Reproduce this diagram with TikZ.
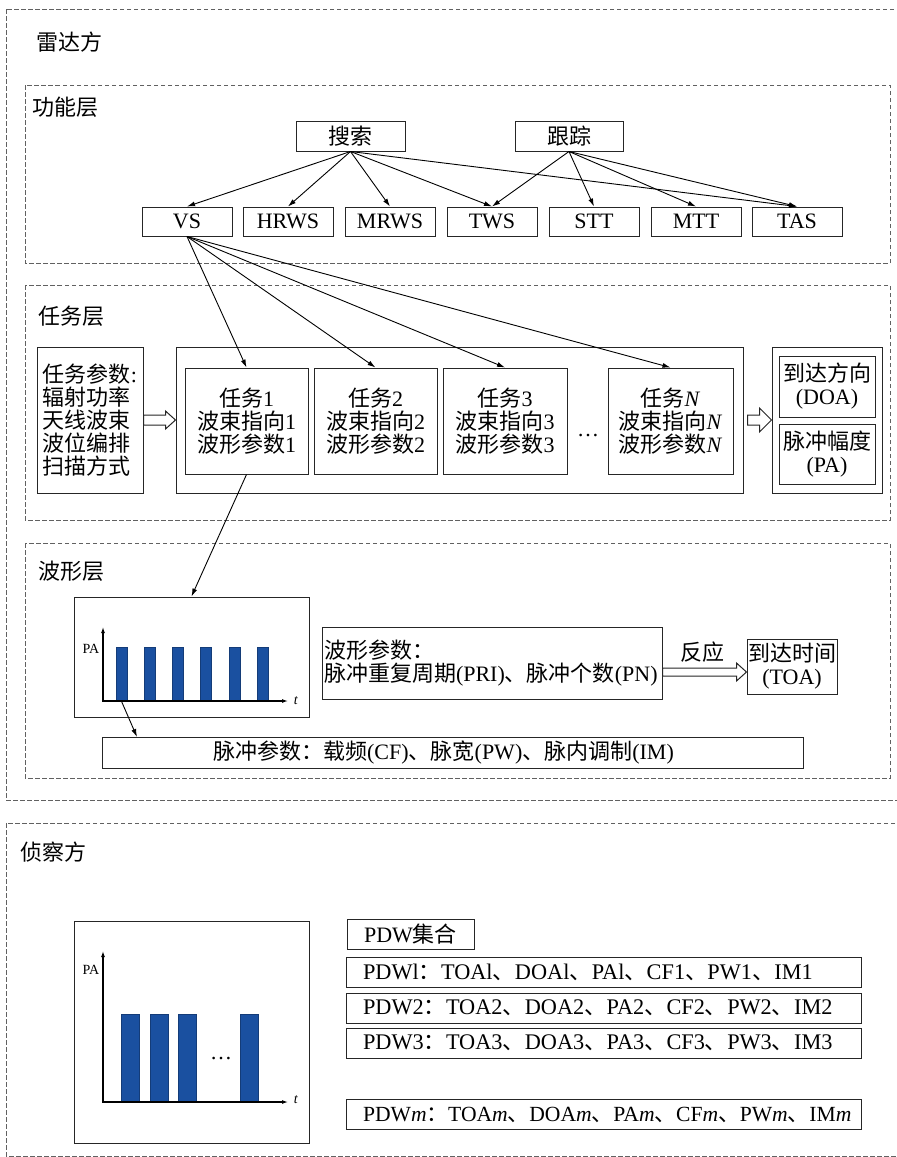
\documentclass[tikz,border=0pt]{standalone}
\usepackage{fontspec}
\setmainfont{Liberation Serif}
\newfontfamily\cjk{Noto Sans CJK SC}
\usetikzlibrary{arrows.meta,calc}
\newcommand\zh[1]{{\cjk #1}}
\newcommand\msz{\fontsize{22}{23}\selectfont}
\newcommand\psz{\fontsize{22.3}{23}\selectfont}
\newcommand\qsz{\fontsize{21.6}{23}\selectfont}
\newcommand\ssz{\fontsize{14}{15}\selectfont}
\definecolor{barblue}{HTML}{1A50A0}
\newcommand\harrow[5]{%
  \draw[hollow] let \p1=(#1), \p2=(#2) in
    (\x1,\y1+#3) -- (\x2-#5,\y1+#3) -- (\x2-#5,\y1+#4) -- (\x2,\y1)
    -- (\x2-#5,\y1-#4) -- (\x2-#5,\y1-#3) -- (\x1,\y1-#3) -- cycle;}
\begin{document}
\begin{tikzpicture}[x=1pt,y=-1pt,
  box/.style={draw=black!85,line width=1pt,inner sep=0pt,align=center,font=\msz},
  fn/.style={box,minimum width=90pt,minimum height=29pt},
  tk/.style={box,minimum width=123pt,minimum height=106pt},
  pdw/.style={box,font=\psz,minimum height=30pt,text width=481pt,inner xsep=17pt,align=left},
  dbox/.style={draw=black!62,line width=0.9pt,dash pattern=on 4.5pt off 2.5pt},
  arr/.style={-{Latex[length=8pt,width=5pt]},line width=0.9pt},
  axis/.style={{Latex[length=6pt,width=4pt]}-{Latex[length=6pt,width=4pt]},line width=1.1pt},
  lbl/.style={anchor=west,font=\msz,inner sep=0pt},
  hollow/.style={draw=black!85,line width=1pt,fill=white},
  barA/.style={draw=barblue!75!black,fill=barblue,line width=0.6pt,inner sep=0pt,minimum width=11pt,minimum height=54pt},
  barB/.style={draw=barblue!75!black,fill=barblue,line width=0.6pt,inner sep=0pt,minimum width=18pt,minimum height=88pt}]
\useasboundingbox (0,0) rectangle (897,1157);
\clip (0,0) rectangle (897,1157);

% dashed frames
\draw[dbox] (6,9) rectangle (905,800);
\draw[dbox] (25,85) rectangle (890,263);
\draw[dbox] (25,285) rectangle (890,520);
\draw[dbox] (25,543) rectangle (890,778);
\draw[dbox] (6,823) rectangle (905,1156);

\node[lbl] (lradar) at (36,42) {\zh{雷达方}};
\node[lbl] (lfunc) at (32,107) {\zh{功能层}};
\node[lbl] (ltask) at (38,316) {\zh{任务层}};
\node[lbl] (lwave) at (38,571) {\zh{波形层}};
\node[lbl] (lrecon) at (20,852) {\zh{侦察方}};

% function layer
\node[box,minimum width=109pt,minimum height=30pt] (so) at (350.5,136) {\zh{搜索}};
\node[box,minimum width=108pt,minimum height=30pt] (gz) at (569,136) {\zh{跟踪}};
\node[fn] (vs) at (187,221.5) {VS};
\node[fn] (hrws) at (288,221.5) {HRWS};
\node[fn] (mrws) at (390,221.5) {MRWS};
\node[fn] (tws) at (492,221.5) {TWS};
\node[fn] (stt) at (594,221.5) {STT};
\node[fn] (mtt) at (696,221.5) {MTT};
\node[fn] (tas) at (797,221.5) {TAS};
\foreach \t in {vs,hrws,mrws,tws,tas} \draw[arr] (so.south) -- (\t.north);
\foreach \t in {tws,stt,mtt,tas} \draw[arr] (gz.south) -- (\t.north);

% task layer
\node[box,minimum width=106pt,minimum height=146pt,align=left] (param) at (90,420)
  {\zh{任务参数}:\\\zh{辐射功率}\\\zh{天线波束}\\\zh{波位编排}\\\zh{扫描方式}};
\node[box,minimum width=567pt,minimum height=146pt] (cont) at (459.5,420) {};
\node[tk] (t1) at (246.5,421) {\zh{任务}1\\\zh{波束指向}1\\\zh{波形参数}1};
\node[tk] (t2) at (375.5,421) {\zh{任务}2\\\zh{波束指向}2\\\zh{波形参数}2};
\node[tk,minimum width=124pt] (t3) at (505,421) {\zh{任务}3\\\zh{波束指向}3\\\zh{波形参数}3};
\node[font=\msz,inner sep=0pt] (dots) at (588,436) {\ldots};
\node[tk,minimum width=125pt] (tN) at (670.5,421) {\zh{任务}\textit{N}\\\zh{波束指向}\textit{N}\\\zh{波形参数}\textit{N}};
\node[box,minimum width=110pt,minimum height=146pt] (rbox) at (827,420) {};
\node[box,minimum width=96pt,minimum height=61pt] (doa) at (827,386.5) {\zh{到达方向}\\(DOA)};
\node[box,minimum width=96pt,minimum height=60pt] (pa) at (827,454) {\zh{脉冲幅度}\\(PA)};
\foreach \t in {t1,t2,t3,tN} \draw[arr] (vs.south) -- (\t.north);
\harrow{param.east}{cont.west}{5pt}{9pt}{10pt}
\harrow{$(cont.east)+(4,0)$}{rbox.west}{5pt}{12pt}{12pt}

% waveform layer
\node[box,minimum width=235pt,minimum height=120pt] (ch1) at (191.5,657) {};
\foreach \i/\x in {1/121.5,2/149.7,3/177.9,4/206.1,5/234.3,6/262.5}
  \node[barA] (a\i) at (\x,674) {};
\coordinate (o1) at (103,701);
\coordinate (ya) at (103,627);
\coordinate (xa) at (288,701);
\draw[axis] (ya) -- (o1) -- (xa);
\node[font=\ssz,inner sep=0pt] (pal1) at (91,649) {PA};
\node[font=\ssz,inner sep=0pt] (tl1) at (296,701) {\textit{t}};
\draw[arr] (t1.south) -- (ch1.north);

\node[box,minimum width=701pt,minimum height=31pt] (pulse) at (452.5,752.5)
  {\zh{脉冲参数：载频}(CF)\zh{、脉宽}(PW)\zh{、脉内调制}(IM)\hspace*{18pt}};
\coordinate (pp) at (137,737);
\draw[arr] (a1.south) -- (pp);

\node[box,text width=336pt,inner xsep=2pt,minimum height=72pt,align=left] (wp) at (492,663)
  {\zh{波形参数：}\\\zh{脉冲重复周期}(PRI)\zh{、脉冲个数}(PN)};
\node[box,minimum width=90pt,minimum height=55pt] (toa) at (792,666.5) {\zh{到达时间}\\(TOA)};
\harrow{$(wp.east)+(0,9)$}{toa.west}{4pt}{9pt}{10pt}
\node[font=\msz,inner sep=0pt] (react) at (702,652) {\zh{反应}};

% reconnaissance side
\node[box,minimum width=235pt,minimum height=222pt] (ch2) at (191.5,1032) {};
\foreach \i/\x in {1/130,2/159,3/187,4/249}
  \node[barB] (b\i) at (\x,1058) {};
\node[font=\msz,inner sep=0pt] (dots2) at (221,1058) {\ldots};
\coordinate (o2) at (103,1102);
\coordinate (yb) at (103,951);
\coordinate (xb) at (288,1102);
\draw[axis] (yb) -- (o2) -- (xb);
\node[font=\ssz,inner sep=0pt] (pal2) at (91,970) {PA};
\node[font=\ssz,inner sep=0pt] (tl2) at (296,1100) {\textit{t}};

\node[box,minimum width=127pt,minimum height=30pt] (pset) at (410.5,934) {PDW\zh{集合}};
\node[pdw] (p1) at (603.5,972) {PDWl\zh{：}TOAl\zh{、}DOAl\zh{、}PAl\zh{、}CF1\zh{、}PW1\zh{、}IM1};
\node[pdw] (p2) at (603.5,1008) {PDW2\zh{：}TOA2\zh{、}DOA2\zh{、}PA2\zh{、}CF2\zh{、}PW2\zh{、}IM2};
\node[pdw] (p3) at (603.5,1043) {PDW3\zh{：}TOA3\zh{、}DOA3\zh{、}PA3\zh{、}CF3\zh{、}PW3\zh{、}IM3};
\node[pdw,font=\qsz] (pm) at (603.5,1114.5) {PDW\textit{m}\zh{：}TOA\textit{m}\zh{、}DOA\textit{m}\zh{、}PA\textit{m}\zh{、}CF\textit{m}\zh{、}PW\textit{m}\zh{、}IM\textit{m}};
\end{tikzpicture}
\end{document}
